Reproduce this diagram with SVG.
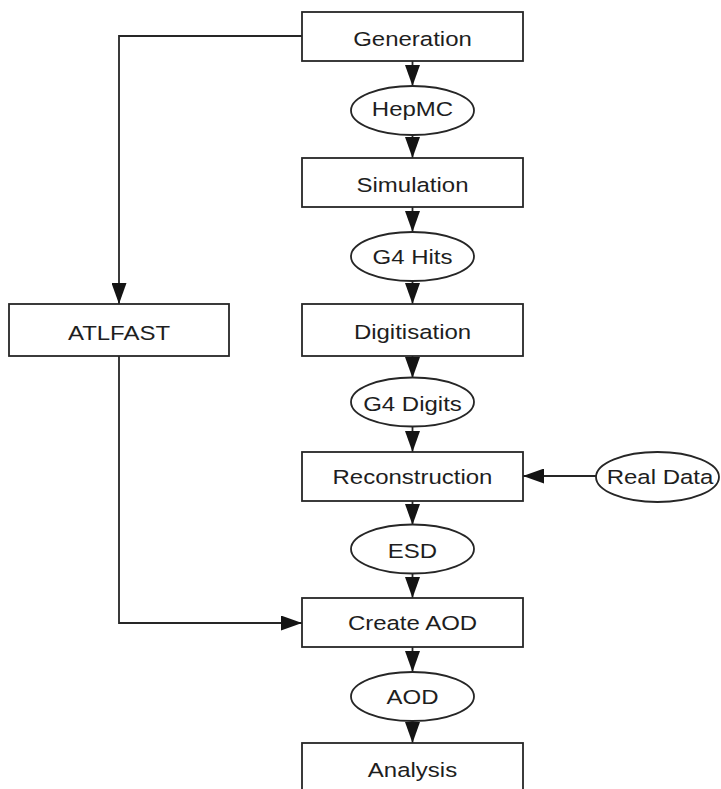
<svg xmlns="http://www.w3.org/2000/svg" width="721" height="789" viewBox="0 0 721 789">
  <style>
    .box { fill: #ffffff; stroke: #262626; stroke-width: 1.8; }
    .data { fill: #ffffff; stroke: #262626; stroke-width: 1.8; }
    .lbl { font-family: "Liberation Sans", Arial, sans-serif; font-size: 20.5px; fill: #1e1e1e; text-anchor: middle; }
    .edge { fill: none; stroke: #262626; stroke-width: 1.8; marker-end: url(#arrow); }
  </style>
  <defs>
    <marker id="arrow" markerUnits="userSpaceOnUse" markerWidth="22" markerHeight="15" refX="21" refY="7.5" orient="auto">
      <path d="M0,0 L21,7.5 L0,15 Z" fill="#141414"/>
    </marker>
  </defs>
  <rect width="721" height="789" fill="#ffffff"/>

  <g id="connectors">
    <path class="edge" d="M412.5,61 V86"/>
    <path class="edge" d="M412.5,135 V158"/>
    <path class="edge" d="M412.5,207 V232"/>
    <path class="edge" d="M412.5,281 V304"/>
    <path class="edge" d="M412.5,356 V378"/>
    <path class="edge" d="M412.5,427 V452"/>
    <path class="edge" d="M412.5,501 V525"/>
    <path class="edge" d="M412.5,573 V598"/>
    <path class="edge" d="M412.5,647 V672"/>
    <path class="edge" d="M412.5,721 V743"/>
    <path class="edge" d="M596,476 H523"/>
    <path class="edge" d="M302,36 H119 V304"/>
    <path class="edge" d="M119,356 V623 H302"/>
  </g>

  <g id="generation">
    <rect class="box" x="302" y="12" width="221" height="49"/>
    <text class="lbl" transform="translate(412.5 45.5) scale(1.17 1)">Generation</text>
  </g>
  <g id="hepmc">
    <ellipse class="data" cx="412.5" cy="110.5" rx="61.5" ry="24.5"/>
    <text class="lbl" transform="translate(412.5 115.5) scale(1.17 1)">HepMC</text>
  </g>
  <g id="simulation">
    <rect class="box" x="302" y="158" width="221" height="49"/>
    <text class="lbl" transform="translate(412.5 191.5) scale(1.17 1)">Simulation</text>
  </g>
  <g id="g4hits">
    <ellipse class="data" cx="412.5" cy="256.5" rx="61.5" ry="24.5"/>
    <text class="lbl" transform="translate(412.5 263.5) scale(1.17 1)">G4 Hits</text>
  </g>
  <g id="digitisation">
    <rect class="box" x="302" y="304" width="221" height="52"/>
    <text class="lbl" transform="translate(412.5 338.5) scale(1.17 1)">Digitisation</text>
  </g>
  <g id="atlfast">
    <rect class="box" x="9" y="304" width="220" height="52"/>
    <text class="lbl" transform="translate(119 340) scale(1.17 1)">ATLFAST</text>
  </g>
  <g id="g4digits">
    <ellipse class="data" cx="412.5" cy="402" rx="61.5" ry="24.5"/>
    <text class="lbl" transform="translate(412.5 410.5) scale(1.17 1)">G4 Digits</text>
  </g>
  <g id="reconstruction">
    <rect class="box" x="302" y="452" width="221" height="49"/>
    <text class="lbl" transform="translate(412.5 483.5) scale(1.17 1)">Reconstruction</text>
  </g>
  <g id="realdata">
    <ellipse class="data" cx="657.5" cy="477" rx="61.5" ry="25"/>
    <text class="lbl" transform="translate(660 483.5) scale(1.17 1)">Real Data</text>
  </g>
  <g id="esd">
    <ellipse class="data" cx="412.5" cy="549" rx="61.5" ry="24.5"/>
    <text class="lbl" transform="translate(412.5 558) scale(1.17 1)">ESD</text>
  </g>
  <g id="createaod">
    <rect class="box" x="302" y="598" width="221" height="49"/>
    <text class="lbl" transform="translate(412.5 630) scale(1.17 1)">Create AOD</text>
  </g>
  <g id="aod">
    <ellipse class="data" cx="412.5" cy="696.5" rx="61.5" ry="24.5"/>
    <text class="lbl" transform="translate(412.5 703.5) scale(1.17 1)">AOD</text>
  </g>
  <g id="analysis">
    <rect class="box" x="302" y="743" width="221" height="60"/>
    <text class="lbl" transform="translate(412.5 776.5) scale(1.17 1)">Analysis</text>
  </g>
</svg>
